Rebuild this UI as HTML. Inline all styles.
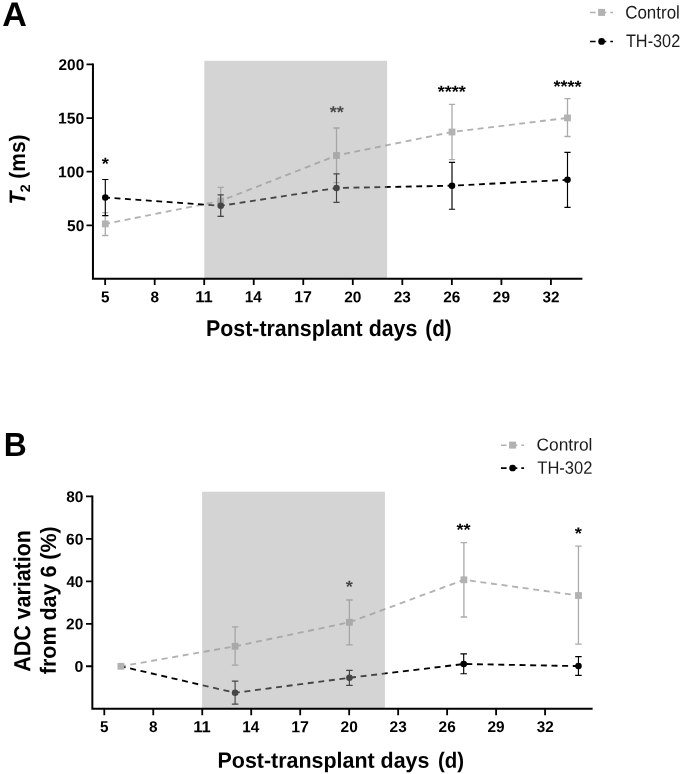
<!DOCTYPE html>
<html lang="en">
<head>
<meta charset="utf-8">
<title>T2 and ADC variation versus post-transplant days</title>
<style>
html,body{margin:0;padding:0;background:#fff}
body{width:685px;height:774px;overflow:hidden}
svg{display:block}
text{font-family:'Liberation Sans', Arial, Helvetica, sans-serif;white-space:pre}
</style>
</head>
<body>
<svg width="685" height="774" viewBox="0 0 685 774">
<rect width="685" height="774" fill="#fff"/>
<g id="panel-a">
<text transform="translate(2.28 25.92) rotate(0.03)" font-size="34.08" font-weight="bold">A</text>
<g class="plot">
<path d="M105.3 223.9 L220.7 200.9 L336.5 155.5 L452 132 L567.5 117.9" fill="none" stroke="#b2b2b2" stroke-width="1.85" stroke-dasharray="5.9 4.56" stroke-dashoffset="1.2"/>
<path d="M105.3 212.6V235.5M102.2 212.6h6.2M102.2 235.5h6.2M220.7 187.3V216.4M217.6 187.3h6.2M217.6 216.4h6.2M336.5 128V182.6M333.4 128h6.2M333.4 182.6h6.2M452 104.3V159.6M448.9 104.3h6.2M448.9 159.6h6.2M567.5 98.6V136.5M564.4 98.6h6.2M564.4 136.5h6.2" fill="none" stroke="#ababab" stroke-width="1.3"/>
<rect x="101.9" y="220.5" width="6.8" height="6.8" fill="#b2b2b2"/>
<rect x="217.3" y="197.5" width="6.8" height="6.8" fill="#b2b2b2"/>
<rect x="333.1" y="152.1" width="6.8" height="6.8" fill="#b2b2b2"/>
<rect x="448.6" y="128.6" width="6.8" height="6.8" fill="#b2b2b2"/>
<rect x="564.1" y="114.5" width="6.8" height="6.8" fill="#b2b2b2"/>
<path d="M105.3 197.5 L220.7 205.8 L336.5 188 L452 185.7 L567.5 179.8" fill="none" stroke="#000" stroke-width="1.85" stroke-dasharray="5.9 4.56" stroke-dashoffset="1.2"/>
<path d="M105.3 179.5V215.6M102.2 179.5h6.2M102.2 215.6h6.2M220.7 194.9V216.4M217.6 194.9h6.2M217.6 216.4h6.2M336.5 173.8V202.3M333.4 173.8h6.2M333.4 202.3h6.2M452 162.3V209.2M448.9 162.3h6.2M448.9 209.2h6.2M567.5 152.3V207.4M564.4 152.3h6.2M564.4 207.4h6.2" fill="none" stroke="#000" stroke-width="1.15"/>
<circle cx="105.3" cy="197.5" r="3.3" fill="#000"/>
<circle cx="220.7" cy="205.8" r="3.3" fill="#000"/>
<circle cx="336.5" cy="188" r="3.3" fill="#000"/>
<circle cx="452" cy="185.7" r="3.3" fill="#000"/>
<circle cx="567.5" cy="179.8" r="3.3" fill="#000"/>
<g class="sig">
<text transform="translate(101.73 169.32) rotate(0.03) scale(1.079 1)" font-size="16.91" font-weight="bold">*</text>
<text transform="translate(329.63 117.82) rotate(0.03) scale(1.072 1)" font-size="16.91" font-weight="bold">**</text>
<text transform="translate(437.63 97.32) rotate(0.03) scale(1.067 1)" font-size="16.91" font-weight="bold">****</text>
<text transform="translate(553.43 92.12) rotate(0.03) scale(1.067 1)" font-size="16.91" font-weight="bold">****</text>
</g>
<rect x="204.3" y="60.8" width="182.8" height="218" fill="#9e9e9e" fill-opacity="0.44"/>
<path d="M92.95 63.5V278.8H582.4" fill="none" stroke="#000" stroke-width="2.0"/>
<path d="M86.5 64.4H92.95M86.5 118.05H92.95M86.5 171.7H92.95M86.5 225.35H92.95M105.15 278.8V285M154.68 278.8V285M204.21 278.8V285M253.74 278.8V285M303.27 278.8V285M352.8 278.8V285M402.33 278.8V285M451.86 278.8V285M501.39 278.8V285M550.92 278.8V285" fill="none" stroke="#000" stroke-width="1.8"/>
<g class="tick-labels">
<text transform="translate(58.56 69.97) rotate(0.03) scale(0.989 1)" font-size="15.56" font-weight="bold">200</text>
<text transform="translate(58.1 123.62) rotate(0.03) scale(1.007 1)" font-size="15.56" font-weight="bold">150</text>
<text transform="translate(58.1 177.27) rotate(0.03) scale(1.007 1)" font-size="15.56" font-weight="bold">100</text>
<text transform="translate(67.07 230.92) rotate(0.03) scale(0.991 1)" font-size="15.56" font-weight="bold">50</text>
<text transform="translate(100.88 302.19) rotate(0.03) scale(0.966 1)" font-size="15.79" font-weight="bold">5</text>
<text transform="translate(150.41 302.19) rotate(0.03) scale(0.986 1)" font-size="15.56" font-weight="bold">8</text>
<text transform="translate(195.14 302.35) rotate(0.03) scale(1.036 1)" font-size="16.01" font-weight="bold">11</text>
<text transform="translate(244.75 302.35) rotate(0.03) scale(0.959 1)" font-size="16.01" font-weight="bold">14</text>
<text transform="translate(294.24 302.31) rotate(0.03)" font-size="15.96" font-weight="bold">17</text>
<text transform="translate(344.24 302.19) rotate(0.03) scale(0.994 1)" font-size="15.56" font-weight="bold">20</text>
<text transform="translate(393.78 302.19) rotate(0.03) scale(0.990 1)" font-size="15.56" font-weight="bold">23</text>
<text transform="translate(443.31 302.19) rotate(0.03) scale(0.990 1)" font-size="15.56" font-weight="bold">26</text>
<text transform="translate(492.84 302.19) rotate(0.03) scale(0.990 1)" font-size="15.56" font-weight="bold">29</text>
<text transform="translate(542.54 302.19) rotate(0.03) scale(0.983 1)" font-size="15.56" font-weight="bold">32</text>
</g>
</g>
<g class="axis-titles">
<text transform="translate(205.97 335.92) rotate(0.03) scale(0.939 1)" font-size="22.78" font-weight="bold">Post-transplant days</text>
<text transform="translate(425.29 335.92) rotate(0.03) scale(0.909 1)" font-size="22.78" font-weight="bold">(d)</text>
<text transform="translate(25.16 204.62) rotate(-89.97) scale(0.936 1)" font-size="22.8" font-weight="bold" font-style="italic">T</text>
<text transform="translate(30 192.19) rotate(-89.97) scale(1.019 1)" font-size="13.86" font-weight="bold">2</text>
<text transform="translate(24.93 178.65) rotate(-89.97) scale(0.941 1)" font-size="22.25" font-weight="bold">(ms)</text>
</g>
<g class="legend">
<path d="M590 12.5h5.6M601.6 12.5h4.7M610.3 12.5h2.7" stroke="#b2b2b2" stroke-width="1.6" fill="none"/>
<rect x="598.1" y="8.9" width="7" height="7" fill="#b2b2b2"/>
<path d="M590 41.5h5.6M601.6 41.5h4.7M610.3 41.5h2.7" stroke="#000" stroke-width="1.6" fill="none"/>
<circle cx="601.6" cy="41.4" r="3.35" fill="#000"/>
<text transform="translate(625.14 18.52) rotate(0.03) scale(0.931 1)" font-size="18.23" fill="#1c1c1c">Control</text>
<text transform="translate(625.93 46.97) rotate(0.03) scale(0.896 1)" font-size="18.17" fill="#1c1c1c">TH-302</text>
</g>
</g>
<g id="panel-b">
<text transform="translate(3.67 456) rotate(0.03) scale(0.955 1)" font-size="33.33" font-weight="bold">B</text>
<g class="plot">
<path d="M120.9 666.3 L235.1 646.3 L349.4 622.3 L463.9 579.8 L578.45 595.5" fill="none" stroke="#b2b2b2" stroke-width="1.85" stroke-dasharray="6 4.65" stroke-dashoffset="1.2"/>
<path d="M235.1 626.8V665.2M231.85 626.8h6.5M231.85 665.2h6.5M349.4 600V644.9M346.15 600h6.5M346.15 644.9h6.5M463.9 542.6V617M460.65 542.6h6.5M460.65 617h6.5M578.45 546.1V644.1M575.2 546.1h6.5M575.2 644.1h6.5" fill="none" stroke="#ababab" stroke-width="1.3"/>
<rect x="231.7" y="642.9" width="6.8" height="6.8" fill="#b2b2b2"/>
<rect x="346" y="618.9" width="6.8" height="6.8" fill="#b2b2b2"/>
<rect x="460.5" y="576.4" width="6.8" height="6.8" fill="#b2b2b2"/>
<rect x="575.05" y="592.1" width="6.8" height="6.8" fill="#b2b2b2"/>
<path d="M120.9 666.3 L235.1 692.8 L349.4 677.8 L463.7 664 L578.45 666.1" fill="none" stroke="#000" stroke-width="1.85" stroke-dasharray="6 4.65" stroke-dashoffset="1.2"/>
<path d="M235.1 681.1V704.1M231.85 681.1h6.5M231.85 704.1h6.5M349.4 670.3V685.3M346.15 670.3h6.5M346.15 685.3h6.5M463.7 653.9V673.7M460.45 653.9h6.5M460.45 673.7h6.5M578.45 656.6V675.4M575.2 656.6h6.5M575.2 675.4h6.5" fill="none" stroke="#000" stroke-width="1.15"/>
<circle cx="235.1" cy="692.8" r="3.3" fill="#000"/>
<circle cx="349.4" cy="677.8" r="3.3" fill="#000"/>
<circle cx="463.7" cy="664" r="3.3" fill="#000"/>
<circle cx="578.45" cy="666.1" r="3.3" fill="#000"/>
<rect x="117.5" y="662.9" width="6.8" height="6.8" fill="#b2b2b2"/>
<g class="sig">
<text transform="translate(345.83 592.32) rotate(0.03) scale(1.079 1)" font-size="16.91" font-weight="bold">*</text>
<text transform="translate(456.53 535.22) rotate(0.03) scale(1.072 1)" font-size="16.91" font-weight="bold">**</text>
<text transform="translate(574.63 539.12) rotate(0.03) scale(1.079 1)" font-size="16.91" font-weight="bold">*</text>
</g>
<rect x="202.1" y="491.7" width="182.8" height="217.05" fill="#9e9e9e" fill-opacity="0.44"/>
<path d="M92.35 495.55V708.75H592.6" fill="none" stroke="#000" stroke-width="2.0"/>
<path d="M86 496.45H92.35M86 538.9H92.35M86 581.35H92.35M86 623.8H92.35M86 666.25H92.35M104.3 708.75V715.2M153.27 708.75V715.2M202.25 708.75V715.2M251.22 708.75V715.2M300.2 708.75V715.2M349.18 708.75V715.2M398.15 708.75V715.2M447.12 708.75V715.2M496.1 708.75V715.2M545.07 708.75V715.2" fill="none" stroke="#000" stroke-width="1.8"/>
<g class="tick-labels">
<text transform="translate(66.17 502.02) rotate(0.03) scale(0.992 1)" font-size="15.56" font-weight="bold">80</text>
<text transform="translate(66.09 544.47) rotate(0.03)" font-size="15.56" font-weight="bold">60</text>
<text transform="translate(66.43 586.92) rotate(0.03) scale(0.976 1)" font-size="15.56" font-weight="bold">40</text>
<text transform="translate(66.12 629.37) rotate(0.03) scale(0.994 1)" font-size="15.56" font-weight="bold">20</text>
<text transform="translate(74.5 671.82) rotate(0.03) scale(1.023 1)" font-size="15.56" font-weight="bold">0</text>
<text transform="translate(100.03 732.09) rotate(0.03) scale(0.966 1)" font-size="15.79" font-weight="bold">5</text>
<text transform="translate(149 732.09) rotate(0.03) scale(0.986 1)" font-size="15.56" font-weight="bold">8</text>
<text transform="translate(193.18 732.25) rotate(0.03) scale(1.036 1)" font-size="16.01" font-weight="bold">11</text>
<text transform="translate(242.24 732.25) rotate(0.03) scale(0.959 1)" font-size="16.01" font-weight="bold">14</text>
<text transform="translate(291.17 732.21) rotate(0.03)" font-size="15.96" font-weight="bold">17</text>
<text transform="translate(340.62 732.09) rotate(0.03) scale(0.994 1)" font-size="15.56" font-weight="bold">20</text>
<text transform="translate(389.6 732.09) rotate(0.03) scale(0.990 1)" font-size="15.56" font-weight="bold">23</text>
<text transform="translate(438.57 732.09) rotate(0.03) scale(0.990 1)" font-size="15.56" font-weight="bold">26</text>
<text transform="translate(487.55 732.09) rotate(0.03) scale(0.990 1)" font-size="15.56" font-weight="bold">29</text>
<text transform="translate(536.69 732.09) rotate(0.03) scale(0.983 1)" font-size="15.56" font-weight="bold">32</text>
</g>
</g>
<g class="axis-titles">
<text transform="translate(217.57 767.67) rotate(0.03) scale(0.973 1)" font-size="22.03" font-weight="bold">Post-transplant days</text>
<text transform="translate(438.02 767.67) rotate(0.03) scale(0.928 1)" font-size="22.03" font-weight="bold">(d)</text>
<text transform="translate(30.27 671.77) rotate(-89.97) scale(0.921 1)" font-size="23.27" font-weight="bold">ADC variation</text>
<text transform="translate(55.85 674.17) rotate(-89.97) scale(0.970 1)" font-size="22.14" font-weight="bold">from day 6 (%)</text>
</g>
<g class="legend">
<path d="M501 445.2h5.6M512.6 445.2h4.7M521.3 445.2h2.7" stroke="#b2b2b2" stroke-width="1.6" fill="none"/>
<rect x="509.1" y="441.6" width="7" height="7" fill="#b2b2b2"/>
<path d="M501 468.1h5.6M512.6 468.1h4.7M521.3 468.1h2.7" stroke="#000" stroke-width="1.6" fill="none"/>
<circle cx="512.6" cy="468" r="3.35" fill="#000"/>
<text transform="translate(536.52 450.48) rotate(0.03)" font-size="17.35" fill="#1c1c1c">Control</text>
<text transform="translate(537.33 473.67) rotate(0.03) scale(0.927 1)" font-size="17.82" fill="#1c1c1c">TH-302</text>
</g>
</g>
</svg>
</body>
</html>
